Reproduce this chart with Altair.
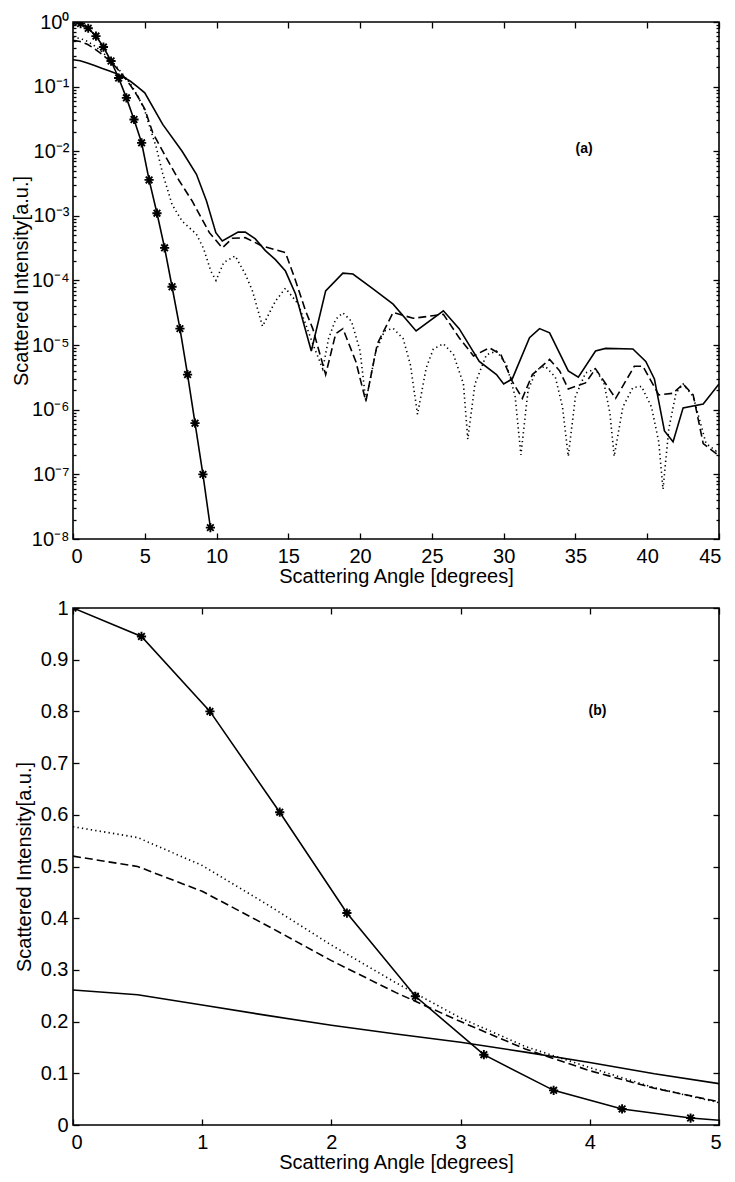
import altair as alt
import pandas as pd

FONT = "Liberation Sans"

# ---------------- data ----------------
# curve with asterisk markers (same in both panels)
star_x = [0.0, 0.53, 1.06, 1.6, 2.12, 2.65, 3.18, 3.72, 4.25, 4.78, 5.3, 5.85,
          6.38, 6.9, 7.45, 7.98, 8.5, 9.05, 9.57]
star_y = [1.0, 0.945, 0.80, 0.605, 0.41, 0.249, 0.136, 0.067, 0.031, 0.0135,
          3.6e-3, 1.1e-3, 3.2e-4, 8.0e-5, 1.8e-5, 3.5e-6, 6.2e-7, 1.0e-7, 1.5e-8]

# solid curve
solid_x = [0.0, 0.5, 1.0, 1.5, 2.0, 2.5, 3.0, 3.5, 4.0, 4.5, 5.0, 6.25, 7.6, 8.6,
           9.3, 9.95, 10.4, 11.5, 12.0, 12.7, 13.4, 14.1, 14.8, 15.5, 16.6, 17.6,
           18.8, 19.5, 20.9, 22.3, 23.9, 25.8, 26.9, 28.3, 29.5, 30.0, 30.6, 31.8,
           32.5, 33.2, 34.5, 35.2, 36.4, 37.1, 39.0, 39.9, 40.5, 41.2, 41.8, 42.5,
           43.9, 45.0]
solid_y = [0.261, 0.252, 0.232, 0.212, 0.193, 0.176, 0.160, 0.141, 0.121, 0.099,
           0.080, 0.026, 0.010, 4.4e-3, 1.7e-3, 5.5e-4, 4.1e-4, 5.6e-4, 5.6e-4,
           4.4e-4, 2.9e-4, 2.1e-4, 1.4e-4, 6.2e-5, 8.1e-6, 6.9e-5, 1.3e-4,
           1.26e-4, 7.4e-5, 4.3e-5, 1.66e-5, 3.4e-5, 1.8e-5, 5.6e-6, 3.5e-6,
           2.5e-6, 3.0e-6, 1.3e-5, 1.8e-5, 1.55e-5, 4.0e-6, 3.2e-6, 8.1e-6,
           8.9e-6, 8.7e-6, 5.6e-6, 3.0e-6, 4.7e-7, 3.2e-7, 1.07e-6, 1.23e-6,
           2.5e-6]

# dashed curve
dash_x = [0.0, 0.5, 1.0, 1.5, 2.0, 2.5, 3.0, 3.5, 4.0, 4.5, 5.0, 5.55, 6.5, 7.4,
          8.3, 9.5, 10.4, 11.1, 12.0, 13.2, 14.8, 15.5, 16.2, 16.7, 17.6, 18.3,
          18.8, 19.7, 20.4, 21.2, 22.3, 23.7, 24.8, 25.8, 26.9, 27.9, 29.0, 29.8,
          30.6, 31.3, 32.0, 33.2, 33.9, 34.5, 35.7, 36.4, 37.8, 39.1, 39.7, 40.8,
          41.8, 42.5, 43.2, 43.9, 44.8, 45.0]
dash_y = [0.52, 0.50, 0.452, 0.386, 0.318, 0.256, 0.200, 0.147, 0.105, 0.071,
          0.045, 0.0195, 7.9e-3, 3.5e-3, 1.7e-3, 5.5e-4, 3.2e-4, 4.5e-4, 4.6e-4,
          3.4e-4, 2.7e-4, 1.0e-4, 3.4e-5, 1.8e-5, 3.5e-6, 1.5e-5, 1.8e-5, 5.6e-6,
          1.35e-6, 1.05e-5, 3.2e-5, 2.6e-5, 2.8e-5, 3.0e-5, 1.3e-5, 6.8e-6,
          9.1e-6, 7.2e-6, 2.75e-6, 1.5e-6, 3.5e-6, 6.0e-6, 4.0e-6, 2.1e-6,
          2.6e-6, 4.3e-6, 1.5e-6, 4.7e-6, 4.7e-6, 1.7e-6, 1.8e-6, 2.5e-6,
          1.7e-6, 3.0e-7, 2.1e-7, 2.0e-7]

# dotted curve
dot_x = [0.0, 0.5, 1.0, 1.5, 2.0, 2.5, 3.0, 3.5, 4.0, 4.5, 5.0, 5.2, 5.8, 6.25,
         6.9, 7.6, 8.6, 9.1, 9.6, 9.96, 10.5, 11.3, 12.0, 12.5, 13.2, 14.1, 14.8,
         15.7, 16.7, 17.4, 17.8, 18.3, 18.8, 19.4, 20.0, 20.4, 21.1, 21.7, 22.3,
         23.0, 23.5, 24.0, 24.6, 25.1, 25.8, 26.5, 27.2, 27.5, 28.0, 28.8, 29.5,
         30.2, 30.8, 31.2, 31.7, 32.3, 32.9, 33.6, 34.1, 34.5, 35.0, 35.7, 36.4,
         37.0, 37.4, 37.7, 38.3, 39.0, 39.6, 40.3, 40.8, 41.1, 41.5, 42.0, 42.5,
         43.2, 44.1, 44.8, 45.0]
dot_y = [0.577, 0.556, 0.502, 0.427, 0.348, 0.275, 0.207, 0.152, 0.111, 0.072,
         0.043, 0.030, 0.0115, 4.5e-3, 1.5e-3, 8.3e-4, 5.2e-4, 3.1e-4, 1.4e-4,
         1.0e-4, 1.9e-4, 2.4e-4, 1.26e-4, 6.9e-5, 1.95e-5, 4.8e-5, 7.6e-5,
         4.3e-5, 1.05e-5, 4.27e-6, 1.26e-5, 2.51e-5, 3.16e-5, 2.34e-5, 8.1e-6,
         1.35e-6, 8.1e-6, 1.66e-5, 1.82e-5, 1.26e-5, 5.0e-6, 8.5e-7, 4.4e-6,
         8.7e-6, 1.05e-5, 7.2e-6, 2.5e-6, 3.5e-7, 2.5e-6, 7.1e-6, 8.1e-6,
         5.0e-6, 1.6e-6, 2.0e-7, 2.0e-6, 4.2e-6, 4.7e-6, 3.2e-6, 1.1e-6,
         1.9e-7, 1.6e-6, 3.7e-6, 4.3e-6, 2.5e-6, 8.9e-7, 1.9e-7, 1.1e-6,
         2.2e-6, 2.3e-6, 1.1e-6, 3.2e-7, 5.9e-8, 5.0e-7, 1.8e-6, 2.5e-6,
         1.6e-6, 3.0e-7, 2.3e-7, 2.5e-7]

# axes
x_ticks_a = [0, 5, 10, 15, 20, 25, 30, 35, 40, 45]
y_major_a = [1.0, 1e-1, 1e-2, 1e-3, 1e-4, 1e-5, 1e-6, 1e-7, 1e-8]
y_label_a = ["10⁰", "10⁻¹", "10⁻²", "10⁻³", "10⁻⁴", "10⁻⁵", "10⁻⁶", "10⁻⁷", "10⁻⁸"]
y_minor_a = [m * d for d in [1e-1, 1e-2, 1e-3, 1e-4, 1e-5, 1e-6, 1e-7, 1e-8]
             for m in [2, 3, 4, 5, 6, 7, 8, 9]]
x_ticks_b = [0, 1, 2, 3, 4, 5]
y_ticks_b = [0, 0.1, 0.2, 0.3, 0.4, 0.5, 0.6, 0.7, 0.8, 0.9, 1.0]

note_a = {"x": [35.6], "y": [0.011], "t": ["(a)"]}
note_b = {"x": [4.06], "y": [0.80], "t": ["(b)"]}

x_title = "Scattering Angle [degrees]"
y_title = "Scattered Intensity[a.u.]"

# ---------------- helpers ----------------
df_star = pd.DataFrame({"x": star_x, "y": star_y})
df_solid = pd.DataFrame({"x": solid_x, "y": solid_y})
df_dash = pd.DataFrame({"x": dash_x, "y": dash_y})
df_dot = pd.DataFrame({"x": dot_x, "y": dot_y})

ASTERISK = "M-1,0L1,0M0,-1L0,1M-0.72,-0.72L0.72,0.72M-0.72,0.72L0.72,-0.72"

T_MAJ = 6
T_MIN = 3


def ax(orient, values, tick, labels=False, title=None, label_expr=None,
       label_pad=5, title_pad=3, flush=False):
    d = dict(orient=orient, values=values, tickSize=tick, offset=-tick,
             domain=False, grid=False, ticks=True, tickColor="black",
             tickWidth=1.3, labels=labels, title=title, minExtent=0)
    if labels:
        d.update(labelFont=FONT, labelFontSize=20, labelColor="black",
                 labelPadding=label_pad, labelFlush=flush, labelOverlap=False)
        if flush:
            d["labelFlushOffset"] = 2
        if label_expr:
            d["labelExpr"] = label_expr
    if title:
        d.update(titleFont=FONT, titleFontSize=20, titleFontWeight="normal",
                 titleColor="black", titlePadding=title_pad)
    return alt.Axis(**d)


def panel(xs, ys, axes, note, width, height):
    (xa1, ya1), (xa2, ya2), (xa3, ya3), (xa4, ya4) = axes

    def enc(ch, xa, ya):
        return ch.encode(
            x=alt.X("x:Q", scale=xs, axis=xa),
            y=alt.Y("y:Q", scale=ys, axis=ya),
        )

    l_solid = enc(alt.Chart(df_solid).mark_line(color="black", strokeWidth=1.6, clip=True), xa1, ya1)
    l_dash = enc(alt.Chart(df_dash).mark_line(color="black", strokeWidth=1.6,
                                               strokeDash=[8, 4], clip=True), xa2, ya2)
    l_dot = enc(alt.Chart(df_dot).mark_line(color="black", strokeWidth=1.6,
                                             strokeDash=[1.3, 3.2], clip=True), xa3, ya3)
    l_star = enc(alt.Chart(df_star).mark_line(color="black", strokeWidth=1.6, clip=True), xa4, ya4)
    p_star = enc(alt.Chart(df_star).mark_point(shape=ASTERISK, size=85, filled=False,
                                                stroke="black", strokeWidth=1.9,
                                                opacity=1, clip=True), None, None)
    t_note = alt.Chart(pd.DataFrame(note)).mark_text(
        font=FONT, fontSize=14, fontWeight="bold", color="black"
    ).encode(
        x=alt.X("x:Q", scale=xs, axis=None),
        y=alt.Y("y:Q", scale=ys, axis=None),
        text="t:N",
    )
    return alt.layer(l_solid, l_dash, l_dot, l_star, p_star, t_note).resolve_axis(
        x="independent", y="independent"
    ).properties(width=width, height=height)


log_expr = " : ".join(
    f"datum.value > {v * 0.5} ? '{lab}'" for v, lab in zip(y_major_a, y_label_a)
) + " : ''"
lin_expr = "datum.value == 0 ? '0' : datum.value == 1 ? '1' : format(datum.value, '.1f')"

xs_a = alt.Scale(domain=[0, 45], nice=False, zero=False)
ys_a = alt.Scale(type="log", domain=[1e-8, 1], nice=False)
axes_a = [
    (ax("bottom", x_ticks_a, T_MAJ, labels=True, title=x_title, label_pad=7, title_pad=0,
        flush=True),
     ax("left", y_major_a, T_MAJ, labels=True, title=y_title, label_expr=log_expr,
        label_pad=4, title_pad=0)),
    (ax("top", x_ticks_a, T_MAJ), ax("right", y_major_a, T_MAJ)),
    (None, ax("left", y_minor_a, T_MIN)),
    (None, ax("right", y_minor_a, T_MIN)),
]
top = panel(xs_a, ys_a, axes_a, note_a, 646, 517)

xs_b = alt.Scale(domain=[0, 5], nice=False, zero=False)
ys_b = alt.Scale(domain=[0, 1], nice=False, zero=False)
axes_b = [
    (ax("bottom", x_ticks_b, T_MAJ, labels=True, title=x_title, label_pad=7, title_pad=0,
        flush=True),
     ax("left", y_ticks_b, T_MAJ, labels=True, title=y_title, label_expr=lin_expr,
        label_pad=5, title_pad=6)),
    (ax("top", x_ticks_b, T_MAJ), ax("right", y_ticks_b, T_MAJ)),
    (None, None),
    (None, None),
]
bottom = panel(xs_b, ys_b, axes_b, note_b, 646, 517)

chart = alt.vconcat(top, bottom, spacing=10).properties(
    padding={"top": 3, "left": 2, "right": 0, "bottom": 0},
    background="white",
).configure(font=FONT).configure_view(stroke="black", strokeWidth=1.6)

chart.save("out.html", embed_options={"renderer": "svg", "actions": False})
